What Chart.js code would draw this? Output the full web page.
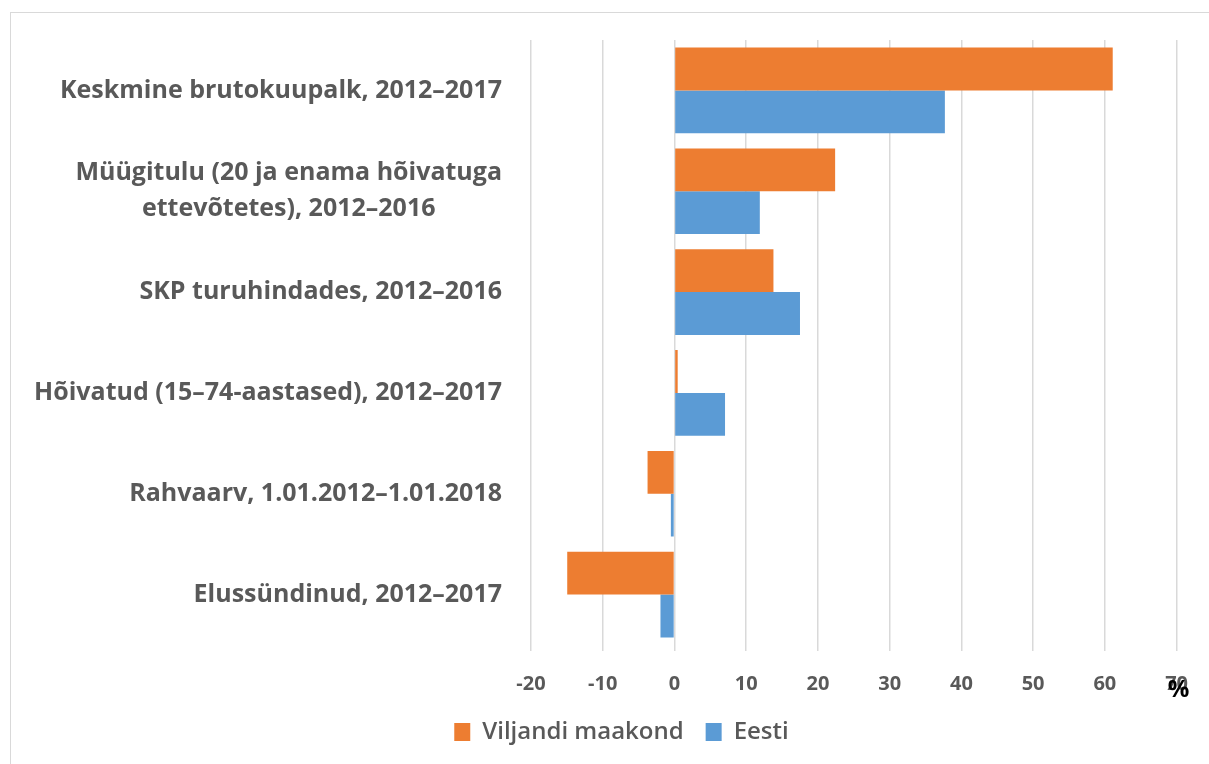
<!DOCTYPE html>
<html>
<head>
<meta charset="utf-8">
<script src="https://cdn.jsdelivr.net/npm/chart.js@4/dist/chart.umd.min.js"></script>
<style>
  html, body { margin: 0; padding: 0; background: #fff; }
  #wrap { position: relative; width: 1209px; height: 764px; }
</style>
</head>
<body>
<div id="wrap"><canvas id="growthChart" width="1209" height="764"></canvas></div>
<script>
// Categories (multi-line ones as arrays)
const categories = [
    'Keskmine brutokuupalk, 2012–2017',
    ['Müügitulu (20 ja enama hõivatuga', 'ettevõtetes), 2012–2016'],
    'SKP turuhindades, 2012–2016',
    'Hõivatud (15–74-aastased), 2012–2017',
    'Rahvaarv, 1.01.2012–1.01.2018',
    'Elussündinud, 2012–2017'
];
const viljandiValues = [61.1, 22.4, 13.8, 0.45, -3.75, -14.95];
const eestiValues = [37.7, 11.9, 17.5, 7.05, -0.5, -1.95];
const xTicks = [-20, -10, 0, 10, 20, 30, 40, 50, 60, 70];

const FONT = "'Open Sans', 'Noto Sans', sans-serif";
const GREY = '#595959';

// Frame, category labels (block right-aligned, lines centred) and the % sign
const extras = {
    id: 'extras',
    beforeDraw(chart) {
        const c = chart.ctx;
        c.save();
        c.strokeStyle = '#d9d9d9';
        c.lineWidth = 1;
        c.strokeRect(10.5, 12.5, 1300, 800);
        c.restore();
    },
    afterDraw(chart) {
        const c = chart.ctx;
        const y = chart.scales.y;
        const x = chart.scales.x;
        c.save();
        c.font = 'bold 25px ' + FONT;
        c.fillStyle = GREY;
        c.textAlign = 'center';
        c.textBaseline = 'middle';
        const rightEdge = 502;
        const lineH = 36;
        categories.forEach((label, i) => {
            const lines = Array.isArray(label) ? label : [label];
            const w = Math.max(...lines.map(l => c.measureText(l).width));
            const cx = rightEdge - w / 2;
            const cy = y.getPixelForTick(i);
            lines.forEach((l, j) => {
                c.fillText(l, cx, cy + (j - (lines.length - 1) / 2) * lineH);
            });
        });
        c.font = 'bold 24px ' + FONT;
        c.fillStyle = '#000';
        c.fillText('%', x.getPixelForValue(70) + 2, x.top + 45);
        c.restore();
    }
};

const ctx = document.getElementById('growthChart').getContext('2d');
const growthChart = new Chart(ctx, {
    type: 'bar',
    data: {
        labels: categories,
        datasets: [
            {
                label: 'Viljandi maakond',
                data: viljandiValues,
                backgroundColor: '#ED7D31',
                borderWidth: 0
            },
            {
                label: 'Eesti',
                data: eestiValues,
                backgroundColor: '#5B9BD5',
                borderWidth: 0
            }
        ]
    },
    options: {
        indexAxis: 'y',
        responsive: false,
        animation: false,
        categoryPercentage: 0.85,
        barPercentage: 1.0,
        layout: {
            padding: { top: 40, right: 28, bottom: 10, left: 62 }
        },
        scales: {
            x: {
                min: -20,
                max: 70,
                afterBuildTicks(scale) {
                    scale.ticks = xTicks.map(v => ({ value: v }));
                },
                afterFit(scale) {
                    scale.height = 53;
                },
                grid: {
                    color: '#d9d9d9',
                    lineWidth: 1.5,
                    drawTicks: true,
                    tickLength: 6,
                    tickColor: '#d9d9d9'
                },
                border: { display: false },
                ticks: {
                    color: GREY,
                    padding: 21,
                    font: { family: FONT, size: 20, weight: 'bold' }
                }
            },
            y: {
                afterFit(scale) {
                    scale.width = 469;
                },
                grid: { display: false },
                border: { display: false },
                ticks: {
                    color: 'rgba(0,0,0,0)',
                    font: { family: FONT, size: 21, weight: 'bold' }
                }
            }
        },
        plugins: {
            legend: {
                position: 'bottom',
                labels: {
                    color: GREY,
                    boxWidth: 16,
                    boxHeight: 18,
                    padding: 22,
                    font: { family: FONT, size: 24, weight: '600' }
                }
            },
            tooltip: { enabled: false }
        }
    },
    plugins: [extras]
});
</script>
</body>
</html>
